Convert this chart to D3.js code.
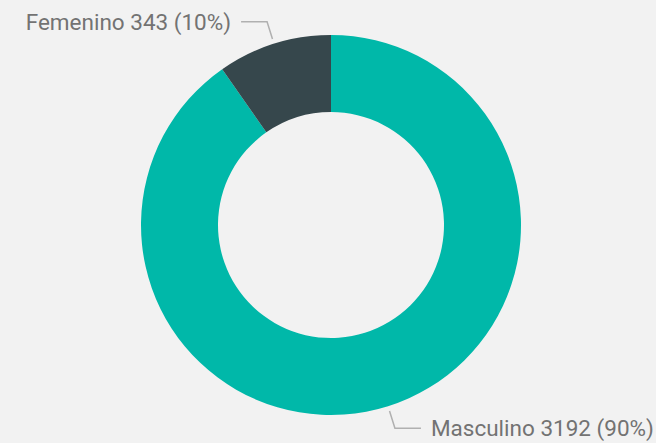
<!DOCTYPE html>
<html>
<head>
<meta charset="utf-8">
<script src="https://cdn.jsdelivr.net/npm/d3@7"></script>
<style>
  html, body { margin: 0; padding: 0; background: #f2f2f2; }
  svg { display: block; }
</style>
</head>
<body>
<svg id="chart" width="656" height="443"></svg>
<script>
var categories = ["Masculino", "Femenino"];
var counts = [3192, 343];
var percents = [90, 10];
var colors = ["#00b8a9", "#36474c"];

var width = 656, height = 443;
var cx = 331, cy = 225;
var outer_radius = 190, inner_radius = 113;

var svg = d3.select("#chart");
svg.append("rect").attr("width", width).attr("height", height).attr("fill", "#f2f2f2");

var data = categories.map(function(c, i) {
  return { name: c, value: counts[i], pct: percents[i], color: colors[i] };
});

var pie = d3.pie().sort(null).value(function(d) { return d.value; });
var arc = d3.arc().innerRadius(inner_radius).outerRadius(outer_radius);
var arcs = pie(data);

var g = svg.append("g").attr("transform", "translate(" + cx + "," + cy + ")");

g.selectAll("path.slice")
  .data(arcs)
  .enter().append("path")
  .attr("class", "slice")
  .attr("d", arc)
  .attr("fill", function(d) { return d.data.color; });

// leader lines + labels
var line_start = d3.arc().innerRadius(outer_radius + 5).outerRadius(outer_radius + 5);
var line_elbow = d3.arc().innerRadius(outer_radius + 23).outerRadius(outer_radius + 23);

arcs.forEach(function(d) {
  var p0 = line_start.centroid(d);
  var p1 = line_elbow.centroid(d);
  var mid = (d.startAngle + d.endAngle) / 2;
  var side = mid < Math.PI ? 1 : -1;
  var p2 = [p1[0] + side * 26, p1[1]];

  g.append("polyline")
    .attr("points", [p0, p1, p2].map(function(p) { return p.join(","); }).join(" "))
    .attr("fill", "none")
    .attr("stroke", "#b0b0b0")
    .attr("stroke-width", 1.5);

  g.append("text")
    .attr("x", p2[0] + side * 10)
    .attr("y", p2[1])
    .attr("dy", "0.35em")
    .attr("text-anchor", side > 0 ? "start" : "end")
    .attr("font-family", "Roboto, 'DejaVu Sans', sans-serif")
    .attr("font-size", 22.5)
    .attr("fill", "#737373")
    .text(d.data.name + " " + d.data.value + " (" + d.data.pct + "%)");
});
</script>
</body>
</html>
